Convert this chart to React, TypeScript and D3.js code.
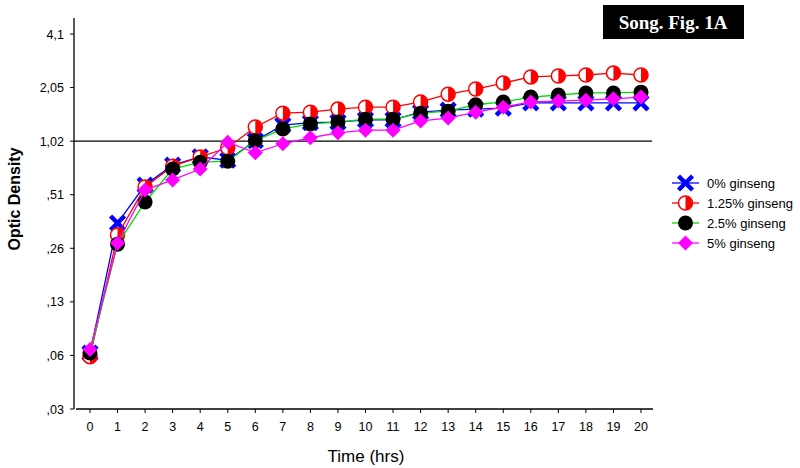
import React from "react";
import * as d3 from "d3";

const hours = [0, 1, 2, 3, 4, 5, 6, 7, 8, 9, 10, 11, 12, 13, 14, 15, 16, 17, 18, 19, 20];
const ginseng0 = [0.066, 0.355, 0.58, 0.75, 0.835, 0.8, 1.03, 1.26, 1.3, 1.31, 1.35, 1.35, 1.49, 1.53, 1.55, 1.57, 1.68, 1.68, 1.68, 1.68, 1.68];
const ginseng125 = [0.063, 0.304, 0.566, 0.74, 0.835, 0.94, 1.23, 1.47, 1.49, 1.55, 1.59, 1.59, 1.7, 1.88, 2.01, 2.17, 2.35, 2.38, 2.41, 2.47, 2.41];
const ginseng25 = [0.066, 0.27, 0.466, 0.714, 0.78, 0.79, 1.03, 1.2, 1.28, 1.31, 1.36, 1.36, 1.47, 1.51, 1.64, 1.7, 1.81, 1.86, 1.91, 1.91, 1.93];
const ginseng5 = [0.069, 0.274, 0.544, 0.62, 0.714, 1.01, 0.88, 0.99, 1.07, 1.14, 1.18, 1.18, 1.33, 1.38, 1.49, 1.59, 1.7, 1.72, 1.74, 1.77, 1.81];
const seriesNames = ["0% ginseng", "1.25% ginseng", "2.5% ginseng", "5% ginseng"];
const yTickValues = [0.032, 0.064, 0.128, 0.256, 0.512, 1.024, 2.048, 4.096];
const yTickLabels = [",03", ",06", ",13", ",26", ",51", "1,02", "2,05", "4,1"];
const refValue = 1.024;

const FONT = "'Liberation Sans', Arial, Helvetica, sans-serif";

function Marker({ kind, x, y }: { kind: number; x: number; y: number }) {
  if (kind === 0) {
    const s = 7;
    return (
      <g transform={`translate(${x},${y})`}>
        <line x1={-s} y1={-s} x2={s} y2={s} stroke="#0000ff" strokeWidth={4.5} />
        <line x1={-s} y1={s} x2={s} y2={-s} stroke="#0000ff" strokeWidth={4.5} />
      </g>
    );
  }
  if (kind === 1) {
    const r = 7;
    return (
      <g transform={`translate(${x},${y})`}>
        <circle r={r} fill="#ffffff" stroke="#ff0000" strokeWidth={1.5} />
        <path d={`M0,${-r} A${r},${r} 0 0 1 0,${r} Z`} fill="#ff0000" />
      </g>
    );
  }
  if (kind === 2) {
    return <circle cx={x} cy={y} r={7.5} fill="#000000" />;
  }
  const h = 7.5;
  return (
    <path
      d={`M${x},${y - h} L${x + h},${y} L${x},${y + h} L${x - h},${y} Z`}
      fill="#ff00ff"
    />
  );
}

export default function App() {
  const width = 800;
  const height = 468;
  const x = d3.scaleLinear().domain([0, 20]).range([90, 641]);
  const y = d3.scaleLog().base(2).domain([0.032, 4.096]).range([409, 34]);

  const series = [
    { values: ginseng0, line: "#0000ff" },
    { values: ginseng125, line: "#ff0000" },
    { values: ginseng25, line: "#00dd00" },
    { values: ginseng5, line: "#ff00ff" },
  ];

  const lineGen = d3
    .line<number>()
    .x((_, i) => x(hours[i]))
    .y((d) => y(d));

  const axisX = 74;
  const axisY = 409;

  return (
    <svg
      width={width}
      height={height}
      style={{ position: "absolute", left: 0, top: 0, background: "#ffffff" }}
    >
      <rect width={width} height={height} fill="#ffffff" />

      {/* title box */}
      <rect x={603} y={5} width={141} height={34} fill="#000000" />
      <text
        x={673}
        y={28.5}
        textAnchor="middle"
        fill="#ffffff"
        fontFamily="'Liberation Serif', 'Times New Roman', serif"
        fontWeight="bold"
        fontSize={19}
      >
        Song. Fig. 1A
      </text>

      {/* reference line */}
      <line x1={axisX} x2={652} y1={y(refValue)} y2={y(refValue)} stroke="#000" strokeWidth={1.3} />

      {/* axes */}
      <line x1={axisX} x2={axisX} y1={18} y2={axisY} stroke="#000" strokeWidth={1.3} />
      <line x1={76} x2={653} y1={axisY} y2={axisY} stroke="#000" strokeWidth={1.3} />

      {yTickValues.map((v, i) => (
        <g key={"yt" + i}>
          <line x1={70} x2={axisX} y1={y(v)} y2={y(v)} stroke="#000" strokeWidth={1} />
          <text
            x={64}
            y={y(v) + 4.5}
            textAnchor="end"
            fontFamily={FONT}
            fontSize={12.5}
            fill="#000"
          >
            {yTickLabels[i]}
          </text>
        </g>
      ))}

      {hours.map((h) => (
        <g key={"xt" + h}>
          <line x1={x(h)} x2={x(h)} y1={axisY} y2={axisY + 4} stroke="#000" strokeWidth={1} />
          <text
            x={x(h)}
            y={431}
            textAnchor="middle"
            fontFamily={FONT}
            fontSize={12.5}
            fill="#000"
          >
            {h}
          </text>
        </g>
      ))}

      <text
        x={366}
        y={462}
        textAnchor="middle"
        fontFamily={FONT}
        fontSize={17}
        fill="#000"
      >
        Time (hrs)
      </text>
      <text
        transform="translate(20,199) rotate(-90)"
        textAnchor="middle"
        fontFamily={FONT}
        fontWeight="bold"
        fontSize={16}
        fill="#000"
      >
        Optic Density
      </text>

      {/* series */}
      {series.map((s, si) => (
        <g key={"s" + si}>
          <path d={lineGen(s.values) || ""} fill="none" stroke={s.line} strokeWidth={1.3} />
          {s.values.map((v, i) => (
            <Marker key={i} kind={si} x={x(hours[i])} y={y(v)} />
          ))}
        </g>
      ))}

      {/* legend */}
      {seriesNames.map((name, i) => {
        const ly = 183 + i * 20;
        return (
          <g key={"lg" + i}>
            <line x1={672} x2={699} y1={ly} y2={ly} stroke={series[i].line} strokeWidth={1.3} />
            <Marker kind={i} x={685.5} y={ly} />
            <text
              x={707}
              y={ly + 4.5}
              fontFamily={FONT}
              fontSize={13}
              fill="#000"
            >
              {name}
            </text>
          </g>
        );
      })}
    </svg>
  );
}
